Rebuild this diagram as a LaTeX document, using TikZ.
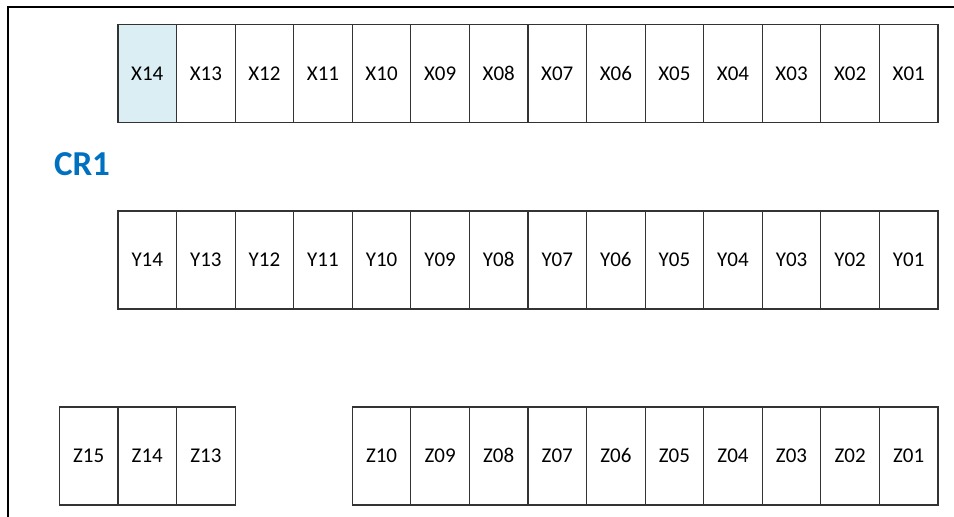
\documentclass[tikz,border=0pt]{standalone}
\usepackage{fontspec}
\setmainfont{Carlito}
\usetikzlibrary{positioning}
\definecolor{crblue}{HTML}{0070C0}
\definecolor{hilite}{HTML}{DAEEF3}

\begin{document}
\begin{tikzpicture}[x=0.5pt,y=-0.5pt,
  cellbox/.style={draw=black!80,line width=0.55pt,minimum width=29.29pt,minimum height=49pt,
    inner sep=0pt,text height=6.8pt,text depth=0pt,font=\fontsize{10.5pt}{12pt}\selectfont}]
  \useasboundingbox (0,0) rectangle (954,517);
  % frame
  \draw[line width=1pt] (8,517) -- (8,7) -- (954,7);
  \node[text=crblue,font=\bfseries\fontsize{17.5pt}{20pt}\selectfont,anchor=base] (cr1) at (82,176) {CR1};
  % X and Y rows
  \foreach \i in {1,...,14}{
    \pgfmathtruncatemacro{\n}{15-\i}
    \edef\lbl{\ifnum\n<10 0\fi\n}
    \node[cellbox] (x\lbl) at (88.71+\i*58.57,73.7) {X\lbl};
    \node[cellbox] (y\lbl) at (88.71+\i*58.57,260) {Y\lbl};
  }
  \node[cellbox,fill=hilite] (x14) at (x14) {X14};
  % Z row
  \foreach \i in {0,1,2,5,6,...,14}{
    \pgfmathtruncatemacro{\n}{15-\i}
    \edef\lbl{\ifnum\n<10 0\fi\n}
    \node[cellbox] (z\lbl) at (88.71+\i*58.57,456) {Z\lbl};
  }
\end{tikzpicture}
\end{document}
